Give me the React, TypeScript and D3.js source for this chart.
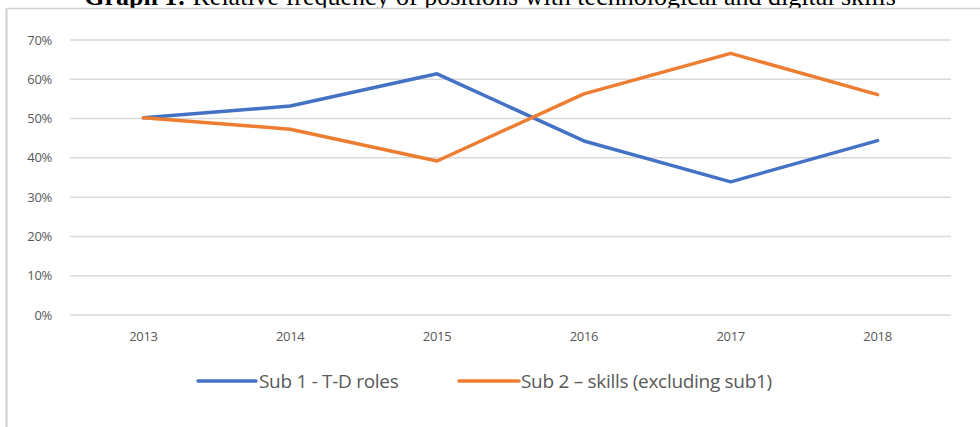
import React from "react";
import * as d3 from "d3";

const years = ["2013", "2014", "2015", "2016", "2017", "2018"];
const sub1 = [50.2, 53.2, 61.4, 44.3, 33.9, 44.4];
const sub2 = [50.2, 47.3, 39.2, 56.3, 66.6, 56.1];
const yTicks = [0, 10, 20, 30, 40, 50, 60, 70];
const seriesNames = ["Sub 1 - T-D roles", "Sub 2 \u2013 skills (excluding sub1)"];
const colors = ["#4472C4", "#ED7D31"];

export default function App() {
  const W = 980, H = 427;
  const left = 70, right = 951, top = 40, bottom = 315;
  const x = d3.scaleBand<string>().domain(years).range([left, right]);
  const y = d3.scaleLinear().domain([0, 70]).range([bottom, top]);
  const line = d3.line<number>()
    .x((_, i) => (x(years[i]) as number) + x.bandwidth() / 2)
    .y((d) => y(d));
  const series = [sub1, sub2];
  const font = "'Open Sans', 'Noto Sans', sans-serif";
  return (
    <svg width={W} height={H} style={{ position: "absolute", left: 0, top: 0, background: "#fff" }}>
      <defs>
        <clipPath id="titleClip">
          <rect x={0} y={-20} width={W} height={28} />
        </clipPath>
      </defs>
      <rect x={0} y={0} width={W} height={H} fill="#fff" />
      <text x={490} y={5} textAnchor="middle" fontFamily="'Liberation Serif', 'Times New Roman', serif" fontSize={26} fill="#000" clipPath="url(#titleClip)">
        <tspan fontWeight="bold">Graph 1:</tspan> Relative frequency of positions with technological and digital skills
      </text>
      <line x1={6} x2={W} y1={8.5} y2={8.5} stroke="#d0d0d0" strokeWidth={1.5} />
      <line x1={6.5} x2={6.5} y1={8.5} y2={H} stroke="#d0d0d0" strokeWidth={2} />
      {yTicks.map((t) => (
        <g key={t}>
          <line x1={left} x2={right} y1={y(t)} y2={y(t)} stroke="#d9d9d9" strokeWidth={1.5} />
          <text x={52} y={y(t)} dy="0.35em" textAnchor="end" fontFamily={font} fontSize={13} fill="#595959" letterSpacing={-0.3}>
            {t}%
          </text>
        </g>
      ))}
      {years.map((yr) => (
        <text key={yr} x={(x(yr) as number) + x.bandwidth() / 2} y={336} dy="0.35em" textAnchor="middle" fontFamily={font} fontSize={13} fill="#595959" letterSpacing={-0.3}>
          {yr}
        </text>
      ))}
      {series.map((s, i) => (
        <path key={i} d={line(s) as string} fill="none" stroke={colors[i]} strokeWidth={3.5} strokeLinejoin="round" strokeLinecap="round" />
      ))}
      {[
        { x1: 198, x2: 256, tx: 259 },
        { x1: 459, x2: 519, tx: 521 },
      ].map((l, i) => (
        <g key={i}>
          <line x1={l.x1} x2={l.x2} y1={381} y2={381} stroke={colors[i]} strokeWidth={3.5} strokeLinecap="round" />
          <text x={l.tx} y={381} dy="0.35em" fontFamily={font} fontSize={19} fill="#595959" letterSpacing={-0.3}>
            {seriesNames[i]}
          </text>
        </g>
      ))}
    </svg>
  );
}
